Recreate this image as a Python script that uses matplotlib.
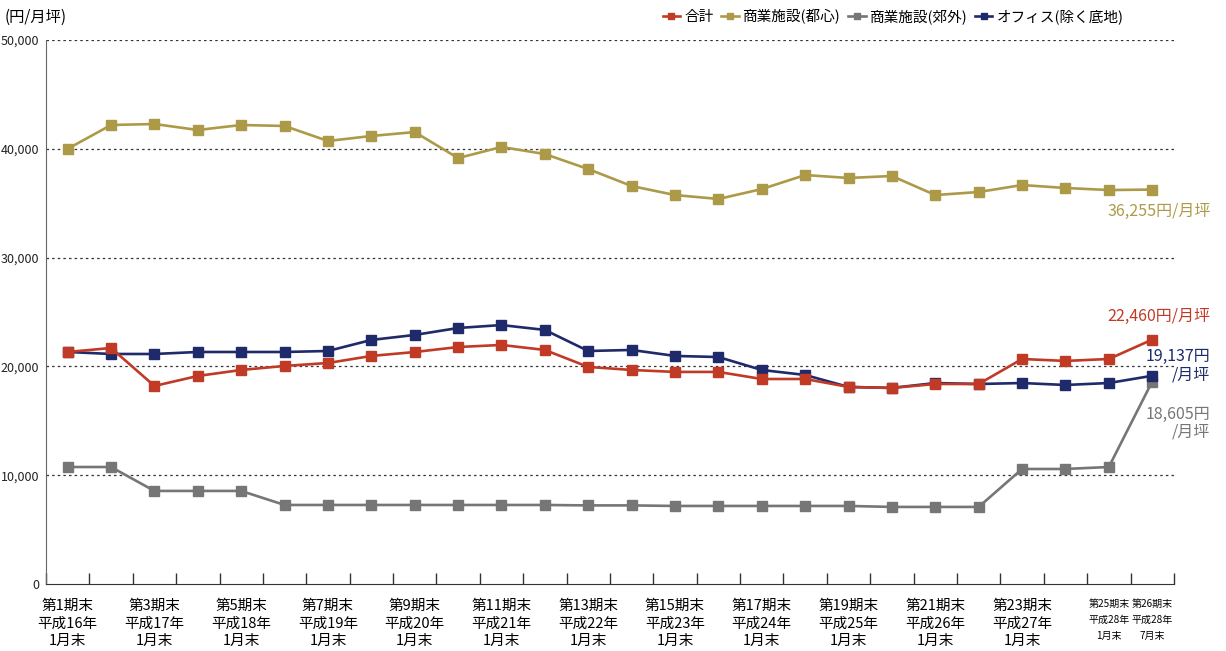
import matplotlib
matplotlib.use("Agg")
import matplotlib.pyplot as plt
from matplotlib.ticker import FuncFormatter

plt.rcParams['font.family'] = ['Noto Sans CJK JP', 'DejaVu Sans']

# data (円/月坪), 第1期末 .. 第26期末
total = [21324, 21690, 18200, 19120, 19670, 20040, 20310, 20960, 21320, 21780,
         21970, 21510, 19950, 19670, 19490, 19490, 18840, 18840, 18110, 18020,
         18380, 18380, 20680, 20500, 20680, 22460]
retail_city = [40000, 42190, 42280, 41730, 42190, 42100, 40720, 41180, 41540, 39150,
               40170, 39520, 38140, 36580, 35750, 35390, 36300, 37590, 37320, 37500,
               35750, 36030, 36670, 36400, 36210, 36255]
retail_suburb = [10750, 10750, 8550, 8550, 8550, 7260, 7260, 7260, 7260, 7260,
                 7260, 7260, 7220, 7220, 7170, 7170, 7170, 7170, 7170, 7080,
                 7080, 7080, 10570, 10570, 10750, 18605]
office = [21324, 21140, 21140, 21324, 21324, 21324, 21415, 22430, 22890, 23530,
          23800, 23350, 21415, 21510, 20960, 20860, 19670, 19210, 18110, 18020,
          18470, 18380, 18470, 18290, 18470, 19137]

tick_idx = [0, 2, 4, 6, 8, 10, 12, 14, 16, 18, 20, 22]
tick_labels = ['第1期末\n平成16年\n1月末', '第3期末\n平成17年\n1月末', '第5期末\n平成18年\n1月末',
               '第7期末\n平成19年\n1月末', '第9期末\n平成20年\n1月末', '第11期末\n平成21年\n1月末',
               '第13期末\n平成22年\n1月末', '第15期末\n平成23年\n1月末', '第17期末\n平成24年\n1月末',
               '第19期末\n平成25年\n1月末', '第21期末\n平成26年\n1月末', '第23期末\n平成27年\n1月末']
small_idx = [24, 25]
small_labels = ['第25期末\n平成28年\n1月末', '第26期末\n平成28年\n7月末']

c_total = '#C03A26'
c_city = '#AD9A48'
c_suburb = '#767676'
c_office = '#1F2A6B'

fig = plt.figure(figsize=(12.26, 6.51), dpi=100)
ax = fig.add_axes([0.0375, 0.103, 0.92, 0.8355])

x = list(range(len(total)))
kw = dict(marker='s', markersize=6.5, linewidth=1.9)
h_sub, = ax.plot(x, retail_suburb, color=c_suburb, label='商業施設(郊外)', **kw)
h_city, = ax.plot(x, retail_city, color=c_city, label='商業施設(都心)', **kw)
h_off, = ax.plot(x, office, color=c_office, label='オフィス(除く底地)', **kw)
h_tot, = ax.plot(x, total, color=c_total, label='合計', **kw)

ax.set_xlim(-0.5, len(total) - 0.5)
ax.set_ylim(0, 50000)
ax.set_yticks([0, 10000, 20000, 30000, 40000, 50000])
ax.yaxis.set_major_formatter(FuncFormatter(lambda v, p: f'{int(v):,}'))
ax.tick_params(axis='y', length=0, labelsize=9, pad=5, colors='#222222')
for yv in [10000, 20000, 30000, 40000, 50000]:
    ax.axhline(yv, color='#333333', linestyle=(0, (2, 2.5)), linewidth=0.9, zorder=0)

ax.set_xticks([i - 0.5 for i in range(len(total) + 1)])
ax.set_xticklabels([])
ax.tick_params(axis='x', direction='in', length=8, width=1, color='#333333')

for i, lab in zip(tick_idx, tick_labels):
    ax.text(i, -1400, lab, ha='center', va='top', fontsize=10.5, linespacing=1.3)
for i, lab in zip(small_idx, small_labels):
    ax.text(i, -1400, lab, ha='center', va='top', fontsize=7.2, linespacing=1.75)

for s in ['top', 'right']:
    ax.spines[s].set_visible(False)
ax.spines['left'].set_color('#666666')
ax.spines['bottom'].set_color('#333333')

ann = dict(textcoords='offset points', ha='right', fontsize=11.5)
ax.annotate('36,255円/月坪', xy=(25, retail_city[-1]), xytext=(42, -16), va='center', color=c_city, **ann)
ax.annotate('22,460円/月坪', xy=(25, total[-1]), xytext=(42, 17), va='center', color=c_total, **ann)
ax.annotate('19,137円\n/月坪', xy=(25, office[-1]), xytext=(42, 7), va='center', color=c_office,
            linespacing=1.1, **ann)
ax.annotate('18,605円\n/月坪', xy=(25, retail_suburb[-1]), xytext=(42, -30), va='center', color=c_suburb,
            linespacing=1.1, **ann)

fig.text(0.004, 0.974, '(円/月坪)', fontsize=11, va='center', ha='left')

fig.legend(handles=[h_tot, h_city, h_sub, h_off], loc='center right', bbox_to_anchor=(0.925, 0.974),
           ncol=4, frameon=False, fontsize=10.5, handlelength=1.2, handletextpad=0.3, columnspacing=0.5,
           markerscale=0.7, borderpad=0.2)

fig.savefig('out.png', dpi=100)
